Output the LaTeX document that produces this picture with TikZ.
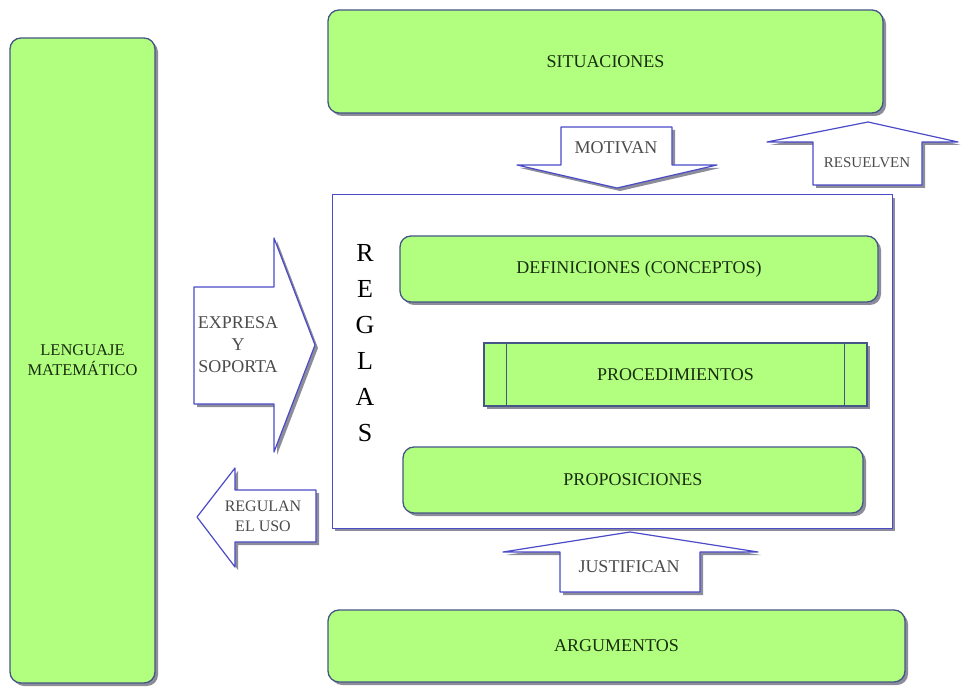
\documentclass[tikz,border=0pt]{standalone}
\usepackage{fontspec}
\setmainfont{Liberation Serif}
\usetikzlibrary{shadows}
\definecolor{boxgreen}{RGB}{178,255,128}
\definecolor{boxline}{RGB}{70,85,135}
\definecolor{arrowline}{RGB}{75,75,200}
\definecolor{shadowgray}{RGB}{140,140,155}
\definecolor{boxtext}{RGB}{25,45,15}
\tikzset{
  shade/.style = {drop shadow={shadow xshift=3pt, shadow yshift=-3pt, fill=shadowgray, opacity=1}},
  greenbox/.style = {draw=boxline, line width=1.3pt, fill=boxgreen, rounded corners=11pt, shade,
    text=boxtext, font=\fontsize{18}{20}\selectfont, align=center, inner sep=0},
  frame/.style = {draw=arrowline, line width=1pt, fill=white, shade, inner sep=0},
  blockarrow/.style = {draw=arrowline, line width=1.2pt, fill=white, line join=round, shade},
  arrowtext/.style = {text=black!70, font=\fontsize{18}{22}\selectfont, align=center}
}
\begin{document}
\begin{tikzpicture}[x=1pt, y=-1pt]
  \useasboundingbox (0,0) rectangle (961,692);
  % cajas verdes exteriores
  \node[greenbox, minimum width=145, minimum height=645, font=\fontsize{16.5}{20}\selectfont] (lenguaje) at (82.5,360.5) {LENGUAJE\\MATEM\'ATICO};
  \node[greenbox, minimum width=555, minimum height=103] (situaciones) at (605.5,61.5) {SITUACIONES};
  \node[greenbox, minimum width=577, minimum height=72] (argumentos) at (616.5,646) {ARGUMENTOS};
  % marco de las reglas
  \node[frame, minimum width=560, minimum height=333] (reglasbox) at (612,361.5) {};
  \node[font=\fontsize{26}{36}\selectfont, align=center] (reglas) at (365,343) {R\\E\\G\\L\\A\\S};
  \node[greenbox, minimum width=478, minimum height=66] (definiciones) at (639,269) {DEFINICIONES (CONCEPTOS)};
  \node[greenbox, rounded corners=0, minimum width=383, minimum height=63] (procedimientos) at (675.5,374.5) {PROCEDIMIENTOS};
  \draw[boxline, line width=1.3pt] ([xshift=23pt]procedimientos.north west) -- ([xshift=23pt]procedimientos.south west);
  \draw[boxline, line width=1.3pt] ([xshift=-23pt]procedimientos.north east) -- ([xshift=-23pt]procedimientos.south east);
  \node[greenbox, minimum width=460, minimum height=66] (proposiciones) at (633,480) {PROPOSICIONES};
  % flechas
  \draw[blockarrow] (561,127) -- (672,127) -- (672,165) -- (717,165) -- (617,188) -- (517,165) -- (561,165) -- cycle;
  \node[arrowtext] (motivan) at (616,148) {MOTIVAN};
  \draw[blockarrow] (813,185) -- (922,185) -- (922,142) -- (958,142) -- (868,122) -- (767,142) -- (813,142) -- cycle;
  \node[arrowtext, font=\fontsize{15}{18}\selectfont] (resuelven) at (867,163) {RESUELVEN};
  \draw[blockarrow] (194,287) -- (274,287) -- (274,238) -- (315,345) -- (274,452) -- (274,404) -- (194,404) -- cycle;
  \node[arrowtext] (expresa) at (238,345) {EXPRESA\\Y\\SOPORTA};
  \draw[blockarrow] (316,490) -- (235,490) -- (235,468) -- (197,517) -- (235,567) -- (235,542) -- (316,542) -- cycle;
  \node[arrowtext, font=\fontsize{16}{20}\selectfont] (regulan) at (263,516) {REGULAN\\EL USO};
  \draw[blockarrow] (560,592) -- (700,592) -- (700,552) -- (758,552) -- (630,532) -- (503,552) -- (560,552) -- cycle;
  \node[arrowtext] (justifican) at (629,567) {JUSTIFICAN};
\end{tikzpicture}
\end{document}
